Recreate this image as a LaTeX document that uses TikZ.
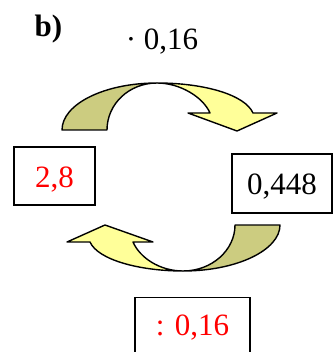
\documentclass[tikz,border=0pt]{standalone}
\usepackage{fontspec}
\setmainfont{Liberation Serif}
\usepackage{xcolor}
\usetikzlibrary{positioning}
\definecolor{bandback}{RGB}{204,204,128}
\definecolor{bandfront}{RGB}{255,255,153}

\begin{document}
\begin{tikzpicture}[
    x=1pt, y=-1pt,
    txt/.style={font=\fontsize{31}{36}\selectfont, inner sep=0pt},
    box/.style={txt, draw, line width=1.4pt, text height=22pt, text depth=0pt},
    back/.style={fill=bandback, draw=black, line width=1.4pt, line join=round},
    front/.style={fill=bandfront, draw=black, line width=1.4pt, line join=round}
]
    \useasboundingbox (0,0) rectangle (333,352);
    \clip (0,0) rectangle (333,352);

    % Labels
    \node[txt, font=\fontsize{31}{36}\selectfont\bfseries, anchor=base] (part) at (48.5,37) {b)};
    \node[txt, anchor=base] (mul) at (162,50) {· 0,16};

    % Boxes
    \node[box, minimum width=81pt, minimum height=58pt, text=red] (start) at (54.5,176) {2,8};
    \node[box, minimum width=100pt, minimum height=59pt] (result) at (282,183.5) {0,448};
    \node[box, minimum width=115pt, inner ysep=16pt, text depth=40pt, text=red, anchor=north] (div) at (192.5,297) {: 0,16};

    % Upper arrow
    \filldraw[back] (62,130) .. controls (62,104) and (104.5,83) .. (157,83)
        .. controls (129,83) and (107,104) .. (107,130) -- cycle;
    \filldraw[front] (157,83) .. controls (205,83) and (245,95) .. (253,113)
        -- (277,113) -- (237,131) -- (188,113) -- (210,113)
        .. controls (203,97) and (180,83) .. (157,83) -- cycle;

    % Lower arrow
    \filldraw[back] (280,225) .. controls (280,250) and (237,271) .. (183,271)
        .. controls (212,271) and (235,250) .. (235,225) -- cycle;
    \filldraw[front] (183,271) .. controls (140,271) and (98,260) .. (90,242)
        -- (67,242) -- (105,225) -- (153,242) -- (133,242)
        .. controls (140,258) and (160,271) .. (183,271) -- cycle;
\end{tikzpicture}
\end{document}
